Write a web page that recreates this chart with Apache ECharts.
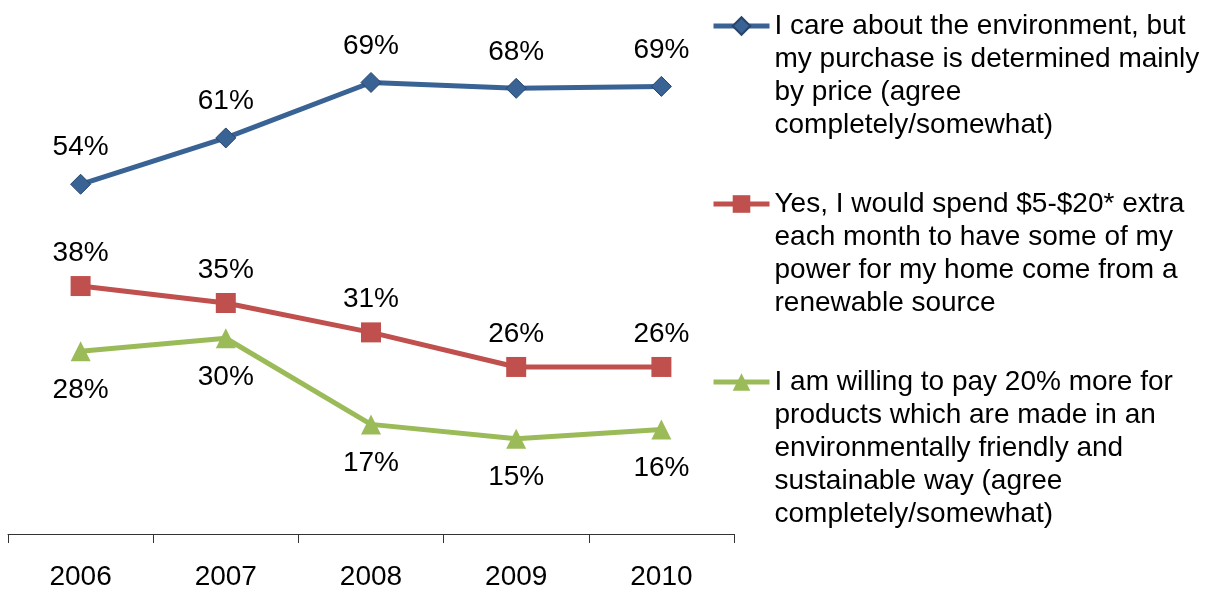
<!DOCTYPE html>
<html>
<head>
<meta charset="utf-8">
<script src="https://cdn.jsdelivr.net/npm/echarts@6/dist/echarts.min.js"></script>
<style>
  html, body { margin: 0; padding: 0; background: #fff; }
  #chart { width: 1212px; height: 591px; }
</style>
</head>
<body>
<div id="chart"></div>
<script>
var years = ["2006", "2007", "2008", "2009", "2010"];

var careValues = [53.6, 60.7, 69.2, 68.3, 68.6];
var spendValues = [38.0, 35.4, 30.9, 25.6, 25.6];
var payValues = [28.0, 30.0, 16.8, 14.6, 16.0];

var careName = ["I care about the environment, but", "my purchase is determined mainly", "by price (agree", "completely/somewhat)"];
var spendName = ["Yes, I would spend $5-$20* extra", "each month to have some of my", "power for my home come from a", "renewable source"];
var payName = ["I am willing to pay 20% more for", "products which are made in an", "environmentally friendly and", "sustainable way (agree", "completely/somewhat)"];

var lineH = 33;
var font = "Liberation Sans, Arial, sans-serif";

function pct(p) {
  return Math.round(p.value) + "%";
}

// one legend per series; blank lines in front push the first text line onto the icon
function legendFor(lines, iconY) {
  var n = lines.length;
  var pad = new Array(n).join("\n");
  return {
    data: [lines.join("\n")],
    orient: "vertical",
    left: 711,
    top: iconY - (2 * n - 1) * lineH / 2,
    padding: 0,
    itemWidth: 56,
    itemHeight: 22,
    itemGap: 0,
    lineStyle: { width: 5 },
    formatter: function (name) {
      return pad + name;
    },
    textStyle: {
      fontSize: 28,
      fontFamily: font,
      color: "#000",
      lineHeight: lineH,
    },
  };
}

var chart = echarts.init(document.getElementById("chart"));
chart.setOption({
  animation: false,
  grid: {
    left: 8,
    right: 478,
    top: 12,
    bottom: 44,
  },
  legend: [
    legendFor(careName, 26),
    legendFor(spendName, 204),
    legendFor(payName, 382),
  ],
  xAxis: {
    type: "category",
    data: years,
    boundaryGap: true,
    axisLine: { lineStyle: { color: "#333", width: 1 } },
    axisTick: { show: true, length: 9, lineStyle: { color: "#333" } },
    axisLabel: { fontSize: 28, fontFamily: font, color: "#000", margin: 29 },
  },
  yAxis: {
    type: "value",
    min: 0,
    max: 80,
    show: false,
  },
  series: [
    {
      name: careName.join("\n"),
      type: "line",
      data: careValues,
      symbol: "diamond",
      symbolSize: 20,
      lineStyle: { color: "#3A6395", width: 5 },
      itemStyle: { color: "#3A6395", borderColor: "#27446B", borderWidth: 1 },
      label: { show: true, position: "top", distance: 12, formatter: pct, fontSize: 28, fontFamily: font, color: "#000" },
    },
    {
      name: spendName.join("\n"),
      type: "line",
      data: spendValues,
      symbol: "rect",
      symbolSize: 20,
      lineStyle: { color: "#C0504D", width: 5 },
      itemStyle: { color: "#C0504D" },
      label: { show: true, position: "top", distance: 9, formatter: pct, fontSize: 28, fontFamily: font, color: "#000" },
    },
    {
      name: payName.join("\n"),
      type: "line",
      data: payValues,
      symbol: "triangle",
      symbolSize: 20,
      lineStyle: { color: "#9BBB59", width: 5 },
      itemStyle: { color: "#9BBB59" },
      label: { show: true, position: "bottom", distance: 15, formatter: pct, fontSize: 28, fontFamily: font, color: "#000" },
    },
  ],
});
</script>
</body>
</html>
